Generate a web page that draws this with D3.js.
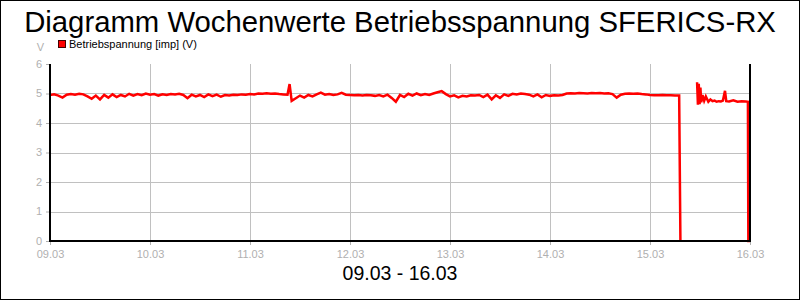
<!DOCTYPE html>
<html>
<head>
<meta charset="utf-8">
<script src="https://cdn.jsdelivr.net/npm/d3@7"></script>
<style>
  body { margin: 0; background: #fff; }
  svg { display: block; font-family: "Liberation Sans", Arial, sans-serif; }
</style>
</head>
<body>
<div class="js-chart"></div>
<script>
// Betriebsspannung, Stunden seit 09.03 00:00
const hours = [
  0,1,2,3,4,5,6,7,8,9,10,11,12,13,14,15,16,17,18,19,
  20,21,22,23,24,25,26,27,28,29,30,31,32,33,34,35,36,37,38,39,
  40,41,42,43,44,45,46,47,48,49,50,51,52,53,54,55,56,57,57.5,58,
  59,60,61,62,63,64,65,66,67,68,69,70,71,72,73,74,75,76,77,78,
  79,80,81,82,83,84,85,86,87,88,89,90,91,92,93,94,95,96,97,98,
  99,100,101,102,103,104,105,106,107,108,109,110,111,112,113,114,115,116,117,118,
  119,120,121,122,123,124,125,126,127,128,129,130,131,132,133,134,135,136,137,138,
  139,140,141,142,143,144,145,146,147,148,149,150,151,151.3,
  // Ausfall
  153,
  155.3,155.5,155.7,155.9,156.1,156.3,156.6,157,157.4,158,158.5,159,159.5,160,
  160.5,161,161.5,162,162.3,163,164,165,166,167,167.5,167.6,168
];
const volts = [
  4.95,4.97,4.93,4.86,4.96,4.98,4.96,4.99,4.97,4.90,4.82,4.93,4.80,4.95,4.86,4.97,4.88,4.95,4.90,4.99,
  4.93,4.98,4.94,5.00,4.96,4.98,4.93,4.97,4.95,4.98,4.97,4.99,4.95,4.84,4.96,4.90,4.95,4.88,4.97,4.91,
  4.96,4.89,4.95,4.93,4.96,4.95,4.97,4.96,4.98,4.97,5.00,4.99,5.01,4.99,5.00,4.98,4.97,4.96,5.32,4.75,
  4.84,4.93,4.86,4.95,4.90,4.97,5.03,4.96,4.98,4.95,4.97,5.02,4.96,4.95,4.94,4.95,4.93,4.95,4.94,4.92,
  4.95,4.90,4.96,4.85,4.72,4.95,4.88,4.99,4.93,5.00,4.94,4.98,4.95,5.00,5.04,5.08,4.98,4.90,4.94,4.87,
  4.92,4.90,4.94,4.93,4.95,4.88,4.96,4.80,4.94,4.85,4.97,4.92,4.99,4.97,5.00,4.98,4.96,4.90,4.97,4.87,
  4.95,4.92,4.94,4.93,4.95,5.00,5.01,5.00,5.02,5.01,5.00,5.02,5.01,5.02,5.00,5.01,4.98,4.86,4.96,4.99,
  5.00,4.99,5.00,4.98,4.97,4.95,4.94,4.94,4.95,4.94,4.94,4.93,4.93,0,
  null,
  5.38,4.62,5.33,4.64,5.20,4.70,4.95,4.75,4.90,4.72,4.80,4.74,4.76,4.72,
  4.74,4.73,4.76,5.09,4.74,4.73,4.77,4.72,4.74,4.73,4.72,0,0
];
const yTicks = [0, 1, 2, 3, 4, 5, 6];
const xTickDays = ['2024-03-09','2024-03-10','2024-03-11','2024-03-12','2024-03-13','2024-03-14','2024-03-15','2024-03-16'];

const chartTitle = 'Diagramm Wochenwerte Betriebsspannung SFERICS-RX';
const chartRange = '09.03 - 16.03';
const seriesName = 'Betriebspannung [imp] (V)';

const WIDTH = 800;
const HEIGHT = 300;
const margin = {top: 64, right: 50, bottom: 59, left: 50};
const width = WIDTH - margin.left - margin.right;
const height = HEIGHT - margin.top - margin.bottom;

const start = new Date(Date.UTC(2024, 2, 9));
const data = hours.map((h, i) => ({t: new Date(start.getTime() + h * 3600e3), v: volts[i]}));

const svg = d3.select('.js-chart').append('svg')
  .attr('width', WIDTH)
  .attr('height', HEIGHT);

// Rahmen
svg.append('rect')
  .attr('x', 0.5).attr('y', 0.5)
  .attr('width', WIDTH - 1).attr('height', HEIGHT - 1)
  .attr('fill', '#fff').attr('stroke', '#000');

svg.append('text')
  .attr('x', WIDTH / 2).attr('y', 32)
  .attr('text-anchor', 'middle')
  .attr('font-size', 29.3)
  .text(chartTitle);

svg.append('text')
  .attr('x', WIDTH / 2).attr('y', 280)
  .attr('text-anchor', 'middle')
  .attr('font-size', 19.5)
  .text(chartRange);

// Legende
svg.append('rect')
  .attr('x', 58.5).attr('y', 40.5).attr('width', 7).attr('height', 7)
  .attr('fill', '#ff0000').attr('stroke', '#400');
svg.append('text')
  .attr('x', 69).attr('y', 48)
  .attr('font-size', 11)
  .text(seriesName);

svg.append('text')
  .attr('x', 44).attr('y', 51)
  .attr('text-anchor', 'end')
  .attr('font-size', 11)
  .attr('fill', '#b0b0b0')
  .text('V');

const chart = svg.append('g')
  .attr('transform', 'translate(' + margin.left + ',' + margin.top + ')');

const xScale = d3.scaleUtc()
  .domain([start, new Date(Date.UTC(2024, 2, 16))])
  .range([0, width]);

const yScale = d3.scaleLinear()
  .domain([0, 6])
  .range([height, 0]);

const xTicks = xTickDays.map(d => new Date(d + 'T00:00:00Z'));

// Gitter
chart.append('g').selectAll('line')
  .data(yTicks.filter(d => d > 0 && d < 6))
  .join('line')
  .attr('x1', 0).attr('x2', width)
  .attr('y1', d => Math.round(yScale(d)) + 0.5)
  .attr('y2', d => Math.round(yScale(d)) + 0.5)
  .attr('stroke', '#c0c0c0');

chart.append('g').selectAll('line')
  .data(xTicks.slice(1, -1))
  .join('line')
  .attr('x1', d => Math.round(xScale(d)) + 0.5)
  .attr('x2', d => Math.round(xScale(d)) + 0.5)
  .attr('y1', 0).attr('y2', height)
  .attr('stroke', '#c0c0c0');

// Achsen
const xAxis = d3.axisBottom(xScale)
  .tickValues(xTicks)
  .tickFormat(d3.utcFormat('%d.%m'))
  .tickSize(4)
  .tickSizeOuter(0);

const yAxis = d3.axisLeft(yScale)
  .tickValues(yTicks)
  .tickFormat(d3.format('d'))
  .tickSize(4)
  .tickSizeOuter(0);

const gx = chart.append('g')
  .attr('transform', 'translate(0,' + height + ')')
  .call(xAxis);
const gy = chart.append('g').call(yAxis);

[gx, gy].forEach(g => {
  g.select('.domain').remove();
  g.selectAll('.tick line').attr('stroke', '#b0b0b0');
  g.selectAll('.tick text')
    .attr('fill', '#b0b0b0')
    .attr('font-size', 11)
    .attr('font-family', '"Liberation Sans", Arial, sans-serif');
});
gx.selectAll('.tick text').attr('y', 9).attr('dy', '0.71em');
gy.selectAll('.tick text').attr('dx', '-1px').attr('dy', '0.3em');

// Linie
const line = d3.line()
  .defined(d => d.v !== null)
  .x(d => xScale(d.t))
  .y(d => yScale(d.v));

chart.append('path')
  .datum(data)
  .attr('fill', 'none')
  .attr('stroke', '#ff0000')
  .attr('stroke-width', 2.5)
  .attr('stroke-linejoin', 'miter')
  .attr('d', line);

// Rahmen Plotbereich: links, unten, rechts
chart.append('path')
  .attr('d', 'M' + 0 + ',' + 0 + 'V' + height + 'H' + width + 'V' + 0)
  .attr('fill', 'none')
  .attr('stroke', '#000')
  .attr('stroke-width', 2);
</script>
</body>
</html>
